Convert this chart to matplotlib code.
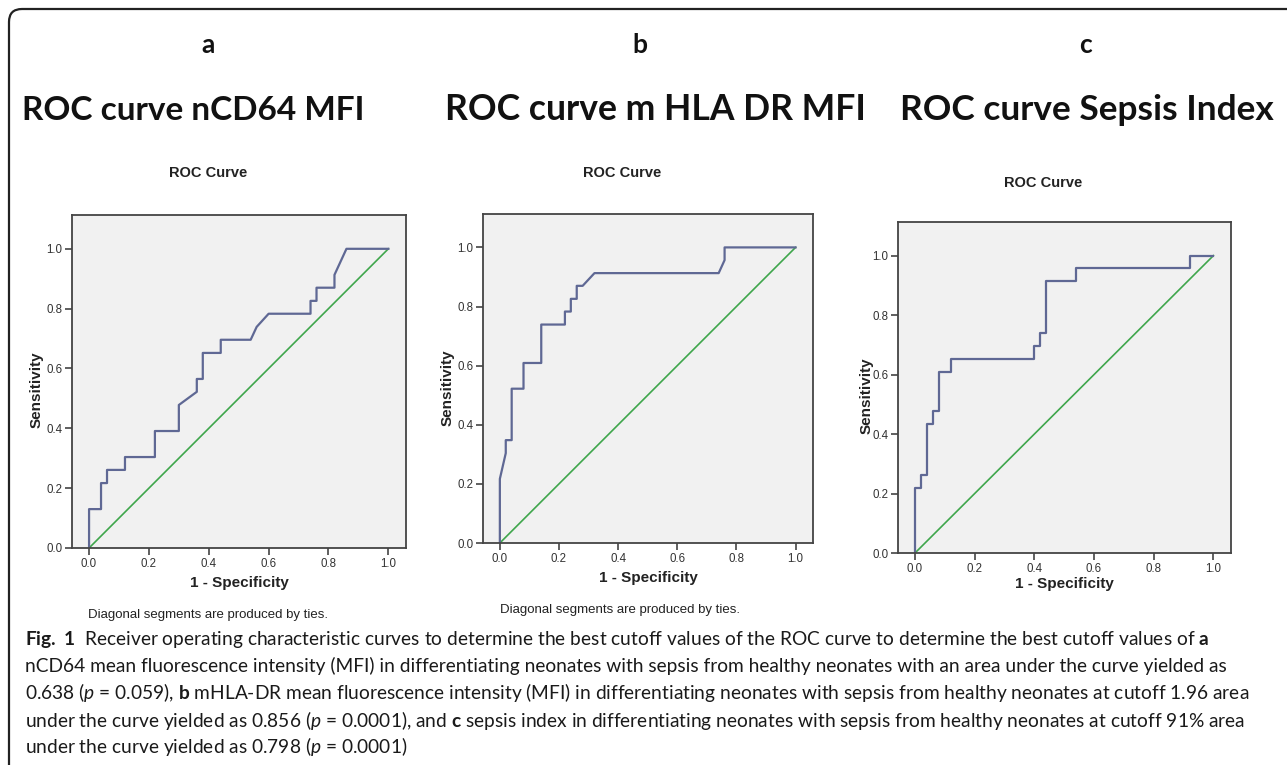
import matplotlib
matplotlib.use("Agg")
import matplotlib.pyplot as plt
from matplotlib.patches import FancyBboxPatch
from matplotlib.transforms import IdentityTransform

W, H = 1287, 765

# ROC points (1 - specificity, sensitivity)
FPR_A = [0, 0, 0.04, 0.04, 0.06, 0.06, 0.12, 0.12, 0.22, 0.22, 0.30, 0.30, 0.36, 0.36,
         0.38, 0.38, 0.44, 0.44, 0.54, 0.56, 0.60, 0.74, 0.74, 0.76, 0.76, 0.82, 0.82, 0.86, 1.0]
TPR_A = [0, 0.130, 0.130, 0.217, 0.217, 0.261, 0.261, 0.304, 0.304, 0.391, 0.391, 0.478, 0.522, 0.565,
         0.565, 0.652, 0.652, 0.696, 0.696, 0.739, 0.783, 0.783, 0.826, 0.826, 0.870, 0.870, 0.913, 1.0, 1.0]

FPR_B = [0, 0, 0.02, 0.02, 0.04, 0.04, 0.08, 0.08, 0.14, 0.14, 0.22, 0.22, 0.24, 0.24,
         0.26, 0.26, 0.28, 0.32, 0.74, 0.76, 0.76, 1.0]
TPR_B = [0, 0.217, 0.304, 0.348, 0.348, 0.522, 0.522, 0.609, 0.609, 0.739, 0.739, 0.783, 0.783, 0.826,
         0.826, 0.870, 0.870, 0.913, 0.913, 0.957, 1.0, 1.0]

FPR_C = [0, 0, 0.02, 0.02, 0.04, 0.04, 0.06, 0.06, 0.08, 0.08, 0.12, 0.12, 0.40, 0.40,
         0.42, 0.42, 0.44, 0.44, 0.54, 0.54, 0.92, 0.92, 1.0]
TPR_C = [0, 0.217, 0.217, 0.261, 0.261, 0.435, 0.435, 0.478, 0.478, 0.609, 0.609, 0.652, 0.652, 0.696,
         0.696, 0.739, 0.739, 0.913, 0.913, 0.957, 0.957, 1.0, 1.0]

TICKS = [0.0, 0.2, 0.4, 0.6, 0.8, 1.0]
TICK_LABELS = ["0.0", "0.2", "0.4", "0.6", "0.8", "1.0"]

LETTERS = ["a", "b", "c"]
TITLES = ["ROC curve nCD64 MFI", "ROC curve m HLA DR MFI", "ROC curve Sepsis Index"]
CAPTION = [
    r"$\mathbf{Fig.\ 1}$  Receiver operating characteristic curves to determine the best cutoff values of the ROC curve to determine the best cutoff values of $\mathbf{a}$",
    "nCD64 mean fluorescence intensity (MFI) in differentiating neonates with sepsis from healthy neonates with an area under the curve yielded as",
    r"0.638 ($p$ = 0.059), $\mathbf{b}$ mHLA-DR mean fluorescence intensity (MFI) in differentiating neonates with sepsis from healthy neonates at cutoff 1.96 area",
    r"under the curve yielded as 0.856 ($p$ = 0.0001), and $\mathbf{c}$ sepsis index in differentiating neonates with sepsis from healthy neonates at cutoff 91% area",
    r"under the curve yielded as 0.798 ($p$ = 0.0001)",
]
# approx. pixel width each caption line takes in the reference (last one not used)
CAPTION_WIDTH = [1220, 1205, 1225, 1222, None]

ROC_COLOR = "#5f6894"
REF_COLOR = "#3fa64c"

plt.rcParams["font.family"] = ["Liberation Sans", "DejaVu Sans"]
plt.rcParams["mathtext.fontset"] = "custom"
plt.rcParams["mathtext.rm"] = "Lato"
plt.rcParams["mathtext.it"] = "Lato:italic"
plt.rcParams["mathtext.bf"] = "Lato:bold"

fig = plt.figure(figsize=(W / 100, H / 100), dpi=100)
renderer = fig.canvas.get_renderer()


def fx(x):
    return x / W


def fy(y):
    return 1 - y / H


def fit_size(s, target, **kw):
    t = fig.text(0, 0, s, fontsize=10, **kw)
    w = t.get_window_extent(renderer).width
    t.remove()
    return 10 * target / w


# axes boxes in pixels: left, top, right, bottom
boxes = [(72, 215, 406, 548), (483, 214, 813, 543), (898, 222, 1231, 553)]
ylab_y = [0.474, 0.471, 0.474]
ylab_x = [37, 448, 867]
xlab_y = [583, 578, 584]
data = [(FPR_A, TPR_A), (FPR_B, TPR_B), (FPR_C, TPR_C)]

for i, (l, t, r, b) in enumerate(boxes):
    ax = fig.add_axes([fx(l), fy(b), (r - l) / W, (b - t) / H])
    ax.set_facecolor("#f1f1f1")
    fpr, tpr = data[i]
    ax.plot([0, 1], [0, 1], color=REF_COLOR, lw=1.2)
    ax.plot(fpr, tpr, color=ROC_COLOR, lw=1.6)
    ax.set_xlim(-0.057, 1.059)
    ax.set_ylim(0, 1.113)
    ax.set_xticks(TICKS)
    ax.set_xticklabels(TICK_LABELS)
    ax.set_yticks(TICKS)
    ax.set_yticklabels(TICK_LABELS)
    ax.tick_params(direction="out", length=5, width=1.2, color="#444444",
                   labelsize=8.3, labelcolor="#333333", pad=2)
    for sp in ax.spines.values():
        sp.set_color("#444444")
        sp.set_linewidth(1.3)
    ax.set_xlabel("1 - Specificity", fontsize=11, fontweight="bold", color="#222222")
    ax.set_ylabel("Sensitivity", fontsize=11, fontweight="bold", color="#222222")
    ax.xaxis.label.set_va("center")
    ax.yaxis.label.set_va("center")
    ax.xaxis.set_label_coords(0.5, (b - xlab_y[i]) / (b - t))
    ax.yaxis.set_label_coords((ylab_x[i] - l) / (r - l), ylab_y[i])

# panel letters and big titles
letter_x = [208, 640, 1085]
title_span = [(22, 365), (445, 866), (900, 1274)]
for i in range(3):
    fig.text(fx(letter_x[i]), fy(45), LETTERS[i], fontsize=19, fontweight="bold",
             family="Lato", ha="center", va="center", color="#111111")
    x0, x1 = title_span[i]
    size = fit_size(TITLES[i], x1 - x0, family="Lato", fontweight="bold")
    fig.text(fx((x0 + x1) / 2), fy(110), TITLES[i], fontsize=size, fontweight="bold",
             family="Lato", ha="center", va="center", color="#111111")

# SPSS chart titles and footnotes
for x, y in [(208, 173), (622, 173), (1043, 183)]:
    fig.text(fx(x), fy(y), "ROC Curve", fontsize=10.5, fontweight="bold",
             ha="center", va="center", color="#222222")
for x, y in [(88, 615), (500, 610)]:
    fig.text(fx(x), fy(y), "Diagonal segments are produced by ties.", fontsize=9.5,
             ha="left", va="center", color="#222222")

# caption: one font size, small enough that no line runs past its reference width
cap_size = min(fit_size(line, w, family="Lato")
               for line, w in zip(CAPTION, CAPTION_WIDTH) if w)
for k, line in enumerate(CAPTION):
    fig.text(fx(25), fy(639 + 27 * k), line, fontsize=cap_size, family="Lato",
             ha="left", va="center", color="#1a1a1a")

# rounded frame (open on the right and bottom)
frame = FancyBboxPatch((9, -100), 1500, 756 + 100, boxstyle="round,pad=0,rounding_size=13",
                       fill=False, edgecolor="#222222", lw=1.6, transform=IdentityTransform())
fig.add_artist(frame)

fig.savefig("out.png", dpi=100)
